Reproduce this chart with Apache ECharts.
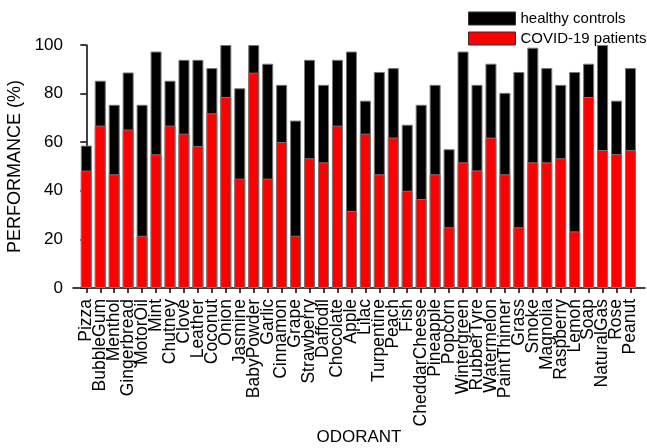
<!DOCTYPE html>
<html>
<head>
<meta charset="utf-8">
<script src="https://cdn.jsdelivr.net/npm/echarts@6/dist/echarts.min.js"></script>
<style>html,body{margin:0;padding:0;background:#fff;}#c{width:647px;height:448px;}</style>
</head>
<body>
<div id="c"></div>
<script>
const categories = ['Pizza','BubbleGum','Menthol','Gingerbread','MotorOil','Mint','Chutney','Clove','Leather','Coconut','Onion','Jasmine','BabyPowder','Garlic','Cinnamon','Grape','Strawberry','Daffodil','Chocolate','Apple','Lilac','Turpentine','Peach','Fish','CheddarCheese','Pineapple','Popcorn','Wintergreen','RubberTyre','Watermelon','PaintThinner','Grass','Smoke','Magnolia','Raspberry','Lemon','Soap','NaturalGas','Rose','Peanut'];
const healthy = [58.6,85.3,75.4,88.7,75.4,97.3,85.3,93.9,93.9,90.5,100,82.2,100,92.3,83.6,68.9,93.9,83.6,93.9,97.3,77.1,88.9,90.5,67.2,75.4,83.6,57.1,97.3,83.6,92.3,80.3,88.9,98.9,90.5,83.6,88.9,92.3,100,77.1,90.5];
const covid = [48.3,66.8,46.8,65.2,21.5,55.0,66.8,63.5,58.4,71.9,78.6,45.0,88.6,45.0,60.1,21.5,53.4,51.7,66.8,31.7,63.5,46.8,61.9,40.0,36.6,46.8,25.0,51.7,48.4,61.9,46.8,25.0,51.7,51.7,53.4,23.3,78.6,56.8,55.1,56.8];
const yTicks = [0,20,40,60,80,100];

const FONT = "'Liberation Sans', Arial, Helvetica, sans-serif";
const X_MIN = -0.953, X_MAX = 40.04;
const idx = categories.map((c,i)=>i);
const labelVals = [X_MIN].concat(idx, [X_MAX]);
const chart = echarts.init(document.getElementById('c'), null, {renderer:'canvas'});
chart.setOption({
  animation:false,
  backgroundColor:'#fff',
  textStyle:{fontFamily:FONT,color:'#000'},
  legend:{
    orient:'vertical', left:468, top:11, padding:0, itemWidth:47, itemHeight:13, itemGap:5,
    textStyle:{fontSize:15,color:'#000',fontFamily:FONT},
    data:[
      {name:'healthy controls', icon:'rect', itemStyle:{color:'#000',borderColor:'#333',borderWidth:1}},
      {name:'COVID-19 patients', icon:'rect', itemStyle:{color:'#ff0000',borderColor:'#333',borderWidth:1}}
    ]
  },
  grid:{left:73,right:2,top:45,bottom:160,containLabel:false,outerBoundsMode:'none'},
  xAxis:{
    type:'value', min:X_MIN, max:X_MAX,
    name:'ODORANT', nameLocation:'middle', nameGap:149, nameMoveOverlap:false,
    nameTextStyle:{fontSize:17,color:'#000',fontFamily:FONT,verticalAlign:'middle'},
    splitLine:{show:false},
    axisLine:{show:true,lineStyle:{color:'#000',width:1.5}},
    axisTick:{show:true,customValues:idx,length:5,lineStyle:{color:'#000',width:1.5}},
    axisLabel:{show:true,customValues:labelVals,rotate:90,fontSize:17.5,lineHeight:11,color:'#000',fontFamily:FONT,margin:11,
      showMinLabel:false, showMaxLabel:false, hideOverlap:false,
      formatter:(v)=> Number.isInteger(v) && categories[v] !== undefined ? categories[v] : ''}
  },
  yAxis:{
    type:'value', min:0, max:100, interval:20,
    name:'PERFORMANCE (%)', nameLocation:'middle', nameGap:42,
    nameTextStyle:{fontSize:18,color:'#000',fontFamily:FONT},
    splitLine:{show:false},
    axisLine:{show:true,lineStyle:{color:'#000',width:1.5}},
    axisTick:{show:true,length:6,lineStyle:{color:'#000',width:1.5}},
    axisLabel:{fontSize:17,color:'#000',fontFamily:FONT,margin:10,
      formatter:(v)=> yTicks.includes(v) ? String(v) : ''}
  },
  series:[
    {name:'healthy controls', type:'bar', barWidth:11, barGap:'-100%',
     itemStyle:{color:'#000',borderColor:'#777',borderWidth:1},
     data:healthy.map((v,i)=>[i,v])},
    {name:'COVID-19 patients', type:'bar', barWidth:11, barGap:'-100%',
     itemStyle:{color:'#ff0000',borderColor:'#777',borderWidth:1},
     data:covid.map((v,i)=>[i,v])}
  ]
});
</script>
</body>
</html>
